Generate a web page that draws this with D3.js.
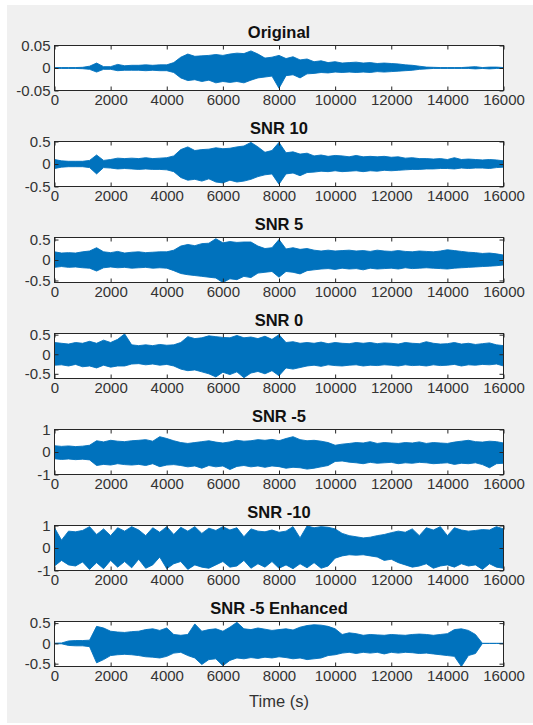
<!DOCTYPE html>
<html>
<head>
<meta charset="utf-8">
<script src="https://cdn.jsdelivr.net/npm/d3@7"></script>
<style>
  body { margin: 0; background: #fff; }
  svg { display: block; font-family: "Liberation Sans", Arial, sans-serif; }
</style>
</head>
<body>
<svg id="chart" width="533" height="725"></svg>
<script>
// envelopes of each waveform, one value every 250 samples (0 .. 16000)
const originalUpper = [0.001,0.001,0.001,0.001,0.0015,0.004,0.011,0.003,0.003,0.008,0.005,0.006,0.006,0.007,0.006,0.007,
  0.007,0.012,0.024,0.031,0.026,0.027,0.028,0.030,0.028,0.031,0.033,0.032,0.038,0.031,0.022,0.024,
  0.028,0.021,0.025,0.018,0.020,0.014,0.016,0.012,0.014,0.011,0.012,0.013,0.011,0.012,0.010,0.011,
  0.010,0.009,0.007,0.006,0.004,0.002,0.0015,0.001,0.001,0.001,0.001,0.002,0.003,0.001,0.002,0.002,0.001];
const originalLower = [-0.001,-0.001,-0.001,-0.001,-0.0015,-0.003,-0.009,-0.003,-0.003,-0.006,-0.005,-0.005,-0.005,-0.006,-0.005,-0.006,
  -0.006,-0.010,-0.022,-0.028,-0.026,-0.030,-0.027,-0.033,-0.030,-0.032,-0.030,-0.033,-0.027,-0.022,-0.020,-0.018,
  -0.045,-0.017,-0.015,-0.022,-0.013,-0.012,-0.010,-0.011,-0.009,-0.010,-0.009,-0.010,-0.009,-0.010,-0.008,-0.009,
  -0.008,-0.007,-0.006,-0.005,-0.003,-0.002,-0.001,-0.001,-0.001,-0.001,-0.001,-0.001,-0.002,-0.001,-0.002,-0.001,-0.001];

const snr10Upper = [0.10,0.07,0.06,0.06,0.06,0.08,0.20,0.08,0.10,0.13,0.12,0.13,0.12,0.14,0.12,0.13,
  0.14,0.18,0.32,0.38,0.30,0.32,0.33,0.36,0.34,0.35,0.38,0.40,0.48,0.38,0.26,0.30,
  0.48,0.25,0.27,0.22,0.24,0.18,0.20,0.17,0.19,0.18,0.16,0.19,0.16,0.17,0.16,0.17,
  0.15,0.16,0.13,0.14,0.12,0.12,0.11,0.12,0.10,0.14,0.10,0.11,0.10,0.09,0.10,0.09,0.07];
const snr10Lower = [-0.10,-0.07,-0.06,-0.06,-0.06,-0.08,-0.22,-0.08,-0.09,-0.11,-0.10,-0.11,-0.12,-0.11,-0.12,-0.12,
  -0.13,-0.17,-0.30,-0.36,-0.34,-0.38,-0.33,-0.40,-0.42,-0.36,-0.40,-0.38,-0.34,-0.28,-0.24,-0.22,
  -0.45,-0.22,-0.20,-0.26,-0.19,-0.18,-0.16,-0.17,-0.15,-0.17,-0.16,-0.15,-0.17,-0.15,-0.16,-0.14,
  -0.15,-0.14,-0.13,-0.12,-0.12,-0.11,-0.11,-0.10,-0.10,-0.11,-0.09,-0.10,-0.09,-0.09,-0.10,-0.08,-0.07];

const snr5Upper = [0.20,0.17,0.18,0.17,0.20,0.22,0.30,0.20,0.18,0.21,0.17,0.19,0.20,0.18,0.19,0.20,
  0.20,0.24,0.34,0.38,0.35,0.40,0.41,0.52,0.42,0.45,0.43,0.44,0.44,0.34,0.28,0.30,
  0.50,0.27,0.30,0.26,0.28,0.24,0.22,0.24,0.22,0.23,0.24,0.22,0.23,0.21,0.24,0.22,
  0.21,0.23,0.21,0.20,0.22,0.21,0.20,0.22,0.25,0.23,0.21,0.19,0.18,0.16,0.17,0.15,0.12];
const snr5Lower = [-0.18,-0.16,-0.18,-0.17,-0.19,-0.20,-0.27,-0.19,-0.17,-0.19,-0.18,-0.20,-0.19,-0.18,-0.20,-0.19,
  -0.20,-0.26,-0.33,-0.36,-0.38,-0.40,-0.42,-0.44,-0.55,-0.46,-0.48,-0.40,-0.43,-0.32,-0.30,-0.28,
  -0.42,-0.28,-0.30,-0.34,-0.26,-0.24,-0.22,-0.21,-0.23,-0.20,-0.22,-0.21,-0.24,-0.20,-0.22,-0.21,
  -0.20,-0.22,-0.19,-0.21,-0.20,-0.19,-0.20,-0.21,-0.22,-0.20,-0.19,-0.18,-0.17,-0.16,-0.15,-0.14,-0.12];

const snr0Upper = [0.30,0.28,0.26,0.30,0.28,0.33,0.28,0.36,0.30,0.38,0.52,0.24,0.22,0.24,0.22,0.25,
  0.23,0.24,0.30,0.45,0.40,0.42,0.47,0.45,0.43,0.42,0.48,0.42,0.44,0.40,0.46,0.38,
  0.50,0.30,0.32,0.28,0.30,0.28,0.31,0.27,0.30,0.28,0.27,0.30,0.28,0.30,0.27,0.29,
  0.28,0.26,0.30,0.28,0.27,0.32,0.28,0.26,0.27,0.30,0.26,0.28,0.25,0.27,0.29,0.24,0.22];
const snr0Lower = [-0.28,-0.27,-0.30,-0.26,-0.32,-0.30,-0.35,-0.28,-0.33,-0.30,-0.30,-0.25,-0.24,-0.27,-0.25,-0.28,
  -0.26,-0.30,-0.38,-0.42,-0.40,-0.45,-0.50,-0.58,-0.46,-0.52,-0.45,-0.60,-0.48,-0.44,-0.50,-0.42,
  -0.55,-0.35,-0.38,-0.34,-0.30,-0.28,-0.31,-0.27,-0.29,-0.30,-0.28,-0.27,-0.30,-0.28,-0.29,-0.27,
  -0.28,-0.30,-0.27,-0.29,-0.28,-0.30,-0.27,-0.29,-0.28,-0.26,-0.30,-0.27,-0.28,-0.26,-0.27,-0.25,-0.30];

const snrM5Upper = [0.28,0.25,0.27,0.24,0.26,0.30,0.50,0.45,0.52,0.48,0.46,0.50,0.52,0.55,0.48,0.68,
  0.60,0.50,0.42,0.38,0.42,0.46,0.50,0.44,0.40,0.45,0.52,0.48,0.50,0.55,0.52,0.56,
  0.50,0.60,0.68,0.55,0.50,0.52,0.48,0.42,0.30,0.35,0.38,0.42,0.40,0.46,0.38,0.42,
  0.40,0.38,0.42,0.40,0.45,0.38,0.42,0.40,0.38,0.44,0.48,0.52,0.46,0.44,0.48,0.46,0.40];
const snrM5Lower = [-0.30,-0.33,-0.31,-0.34,-0.32,-0.35,-0.60,-0.55,-0.58,-0.52,-0.56,-0.58,-0.55,-0.60,-0.52,-0.65,
  -0.58,-0.56,-0.60,-0.66,-0.62,-0.72,-0.60,-0.66,-0.62,-0.78,-0.64,-0.60,-0.66,-0.62,-0.68,-0.62,
  -0.65,-0.72,-0.68,-0.70,-0.76,-0.72,-0.66,-0.60,-0.42,-0.40,-0.45,-0.48,-0.52,-0.46,-0.50,-0.48,
  -0.46,-0.52,-0.48,-0.50,-0.46,-0.48,-0.52,-0.50,-0.48,-0.55,-0.50,-0.52,-0.48,-0.56,-0.70,-0.52,-0.50];

const snrM10Upper = [0.90,0.35,0.75,0.72,0.78,0.95,0.60,0.85,0.55,0.90,0.75,0.95,0.80,0.55,0.90,0.70,
  0.95,0.60,0.92,0.75,0.95,0.65,0.88,0.78,0.95,0.80,0.90,0.50,0.85,0.75,0.72,0.80,
  0.70,0.75,0.95,0.45,0.98,0.90,0.95,0.92,0.85,0.65,0.55,0.50,0.45,0.48,0.55,0.60,
  0.68,0.75,0.70,0.85,0.55,0.90,0.80,0.95,0.55,0.90,0.80,0.75,0.78,0.82,0.80,0.95,0.85];
const snrM10Lower = [-0.80,-0.55,-0.75,-0.80,-0.62,-0.95,-0.65,-0.92,-0.55,-0.85,-0.60,-0.88,-0.50,-0.90,-0.75,-0.40,
  -0.92,-0.70,-0.60,-0.95,-0.75,-0.85,-0.90,-0.75,-0.60,-0.85,-0.80,-0.55,-0.90,-0.70,-0.85,-0.60,
  -0.90,-0.75,-0.92,-0.70,-0.88,-0.65,-0.90,-0.80,-0.45,-0.35,-0.30,-0.32,-0.30,-0.35,-0.40,-0.55,
  -0.50,-0.65,-0.75,-0.85,-0.80,-0.70,-0.90,-0.80,-0.75,-0.85,-0.70,-0.80,-0.75,-0.95,-0.70,-0.85,-0.90];

const enhancedUpper = [0.005,0.01,0.06,0.07,0.07,0.08,0.42,0.38,0.30,0.28,0.27,0.29,0.30,0.34,0.36,0.32,
  0.38,0.22,0.20,0.22,0.48,0.30,0.34,0.36,0.30,0.40,0.52,0.36,0.34,0.38,0.35,0.32,
  0.34,0.36,0.33,0.40,0.44,0.46,0.45,0.42,0.36,0.22,0.26,0.24,0.20,0.22,0.21,0.20,
  0.22,0.21,0.20,0.22,0.23,0.22,0.20,0.22,0.24,0.34,0.36,0.32,0.22,0,0,0,0];
const enhancedLower = [-0.005,-0.01,-0.05,-0.06,-0.06,-0.08,-0.48,-0.40,-0.30,-0.28,-0.27,-0.28,-0.30,-0.33,-0.34,-0.36,
  -0.32,-0.24,-0.22,-0.30,-0.36,-0.52,-0.40,-0.38,-0.55,-0.42,-0.36,-0.38,-0.35,-0.37,-0.34,-0.36,
  -0.33,-0.35,-0.38,-0.36,-0.40,-0.38,-0.36,-0.30,-0.28,-0.24,-0.22,-0.25,-0.22,-0.24,-0.22,-0.26,
  -0.22,-0.24,-0.22,-0.23,-0.25,-0.24,-0.26,-0.28,-0.30,-0.32,-0.57,-0.30,-0.25,0,0,0,0];

const titles = ["Original", "SNR 10", "SNR 5", "SNR 0", "SNR -5", "SNR -10", "SNR -5 Enhanced"];
const uppers = [originalUpper, snr10Upper, snr5Upper, snr0Upper, snrM5Upper, snrM10Upper, enhancedUpper];
const lowers = [originalLower, snr10Lower, snr5Lower, snr0Lower, snrM5Lower, snrM10Lower, enhancedLower];
const yLimits = [[-0.05, 0.05], [-0.5, 0.5], [-0.55, 0.55], [-0.62, 0.53], [-1, 1], [-1, 1], [-0.57, 0.54]];
const yTicks = [[-0.05, 0, 0.05], [-0.5, 0, 0.5], [-0.5, 0, 0.5], [-0.5, 0, 0.5], [-1, 0, 1], [-1, 0, 1], [-0.5, 0, 0.5]];
const xTicks = [0, 2000, 4000, 6000, 8000, 10000, 12000, 14000, 16000];
const xMax = 16000;
const xLabel = "Time (s)";

const svg = d3.select("#chart");
const blue = "#0072BD";
const axisColor = "#262626";

// figure background
svg.append("rect")
  .attr("x", 7).attr("y", 5)
  .attr("width", 526).attr("height", 718)
  .attr("fill", "#f0f0f0");

const left = 54.5, right = 503.5;
const firstTop = 45.5, pitch = 96, plotH = 45;

const x = d3.scaleLinear().domain([0, xMax]).range([left, right]);

titles.forEach((title, p) => {
  const top = firstTop + p * pitch;
  const bottom = top + plotH;
  const y = d3.scaleLinear().domain(yLimits[p]).range([bottom, top]);
  const g = svg.append("g");

  g.append("rect")
    .attr("x", left).attr("y", top)
    .attr("width", right - left).attr("height", plotH)
    .attr("fill", "#fff");

  const clipId = "clip" + p;
  g.append("clipPath").attr("id", clipId)
    .append("rect")
    .attr("x", left).attr("y", top)
    .attr("width", right - left).attr("height", plotH);

  const up = uppers[p], lo = lowers[p];
  const step = xMax / (up.length - 1);
  const area = d3.area()
    .x((d, i) => x(i * step))
    .y0((d, i) => y(lo[i]))
    .y1(d => y(d));

  g.append("path")
    .datum(up)
    .attr("clip-path", `url(#${clipId})`)
    .attr("d", area)
    .attr("fill", blue)
    .attr("stroke", blue)
    .attr("stroke-width", 0.9)
    .attr("stroke-linejoin", "round");

  // axes, ticks pointing inward
  const fmt = v => String(v);
  const axB = g.append("g").attr("transform", `translate(0,${bottom})`)
    .call(d3.axisBottom(x).tickValues(xTicks).tickFormat(fmt).tickSizeInner(-4).tickSizeOuter(0).tickPadding(4));
  const axT = g.append("g").attr("transform", `translate(0,${top})`)
    .call(d3.axisTop(x).tickValues(xTicks).tickFormat("").tickSizeInner(-4).tickSizeOuter(0));
  const axL = g.append("g").attr("transform", `translate(${left},0)`)
    .call(d3.axisLeft(y).tickValues(yTicks[p]).tickFormat(fmt).tickSizeInner(-4).tickSizeOuter(0).tickPadding(4));
  const axR = g.append("g").attr("transform", `translate(${right},0)`)
    .call(d3.axisRight(y).tickValues(yTicks[p]).tickFormat("").tickSizeInner(-4).tickSizeOuter(0));

  [axB, axT, axL, axR].forEach(a => {
    a.select(".domain").remove();
    a.selectAll("line").attr("stroke", axisColor);
    a.selectAll("text")
      .attr("fill", "#333")
      .style("font-size", "15px")
      .style("font-family", "'Liberation Sans', Arial, sans-serif");
  });

  g.append("rect")
    .attr("x", left).attr("y", top)
    .attr("width", right - left).attr("height", plotH)
    .attr("fill", "none")
    .attr("stroke", axisColor)
    .attr("stroke-width", 1);

  g.append("text")
    .attr("x", (left + right) / 2)
    .attr("y", top - 8)
    .attr("text-anchor", "middle")
    .attr("font-weight", "bold")
    .attr("font-size", "16.5px")
    .attr("fill", "#111")
    .text(title);
});

svg.append("text")
  .attr("x", (left + right) / 2)
  .attr("y", 707)
  .attr("text-anchor", "middle")
  .attr("font-size", "16.5px")
  .attr("fill", "#333")
  .text(xLabel);
</script>
</body>
</html>
